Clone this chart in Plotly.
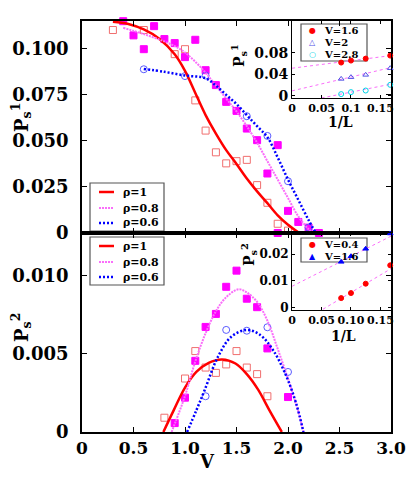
import plotly.graph_objects as go

# ---- top panel: P_s^1 vs V ----
v_r1_top = [0.3, 0.6, 0.9, 1.0, 1.1, 1.2, 1.3, 1.4, 1.5, 1.6, 1.7, 1.8, 1.9, 2.0]
p_r1_top = [0.1102, 0.1102, 0.0971, 0.0998, 0.0720, 0.0556, 0.0438, 0.0378, 0.0390, 0.0397, 0.0260, 0.0164, 0.0050, 0.0013]

v_r08_top = [0.4, 0.5, 0.6, 0.7, 0.8, 0.9, 1.0, 1.1, 1.2, 1.3, 1.4, 1.5, 1.6, 1.7, 1.8, 1.9, 1.9, 2.0, 2.1, 2.2, 2.3]
p_r08_top = [0.1150, 0.1073, 0.0998, 0.1123, 0.1053, 0.1031, 0.0955, 0.1049, 0.0884, 0.0803, 0.0712, 0.0663, 0.0567,
             0.0504, 0.0323, 0.0477, 0.0, 0.0120, 0.0060, 0.0029, 0.0]

v_r06_top = [0.6, 1.0, 1.2, 1.6, 1.8, 2.0, 2.2]
p_r06_top = [0.0889, 0.0852, 0.0855, 0.0634, 0.0527, 0.0281, 0.0029]

# fitted curves
vc_r1_top = [0.3, 0.45, 0.6, 0.75, 0.9, 1.0, 1.1, 1.2, 1.3, 1.4, 1.5, 1.6, 1.7, 1.8, 1.9, 2.0, 2.11]
pc_r1_top = [0.1147, 0.1135, 0.1105, 0.1055, 0.097, 0.088, 0.076, 0.064, 0.054, 0.045, 0.0375, 0.0296, 0.0226,
             0.0162, 0.0096, 0.0045, 0.0]
vc_r08_top = [0.4, 0.6, 0.8, 0.9, 1.0, 1.1, 1.2, 1.3, 1.4, 1.5, 1.6, 1.7, 1.8, 1.9, 2.0, 2.1, 2.2, 2.24]
pc_r08_top = [0.1114, 0.108, 0.104, 0.1015, 0.098, 0.093, 0.087, 0.080, 0.073, 0.066, 0.058, 0.049, 0.039, 0.029,
              0.019, 0.009, 0.002, 0.0]
vc_r06_top = [0.6, 0.8, 1.0, 1.2, 1.3, 1.4, 1.5, 1.6, 1.7, 1.8, 1.9, 2.0, 2.1, 2.2, 2.27]
pc_r06_top = [0.0891, 0.0875, 0.0855, 0.084, 0.080, 0.075, 0.070, 0.064, 0.058, 0.052, 0.041, 0.029, 0.018, 0.007, 0.0]

# ---- bottom panel: P_s^2 vs V ----
v_r1_bot = [0.8, 1.0, 1.1, 1.2, 1.3, 1.4, 1.5, 1.6, 1.7, 1.8]
p_r1_bot = [0.00091, 0.00341, 0.00516, 0.00411, 0.00377, 0.00431, 0.00516, 0.00411, 0.00369, 0.00228]
v_r08_bot = [0.9, 1.0, 1.1, 1.2, 1.3, 1.4, 1.5, 1.6, 1.7, 1.8, 2.0]
p_r08_bot = [0.00057, 0.00219, 0.00454, 0.0067, 0.00753, 0.00926, 0.01029, 0.0085, 0.00796, 0.00533, 0.00223]
v_r06_bot = [1.2, 1.4, 1.6, 1.8, 2.0]
p_r06_bot = [0.00228, 0.00651, 0.00646, 0.00668, 0.00383]

vc_r1_bot = [0.79, 0.89, 1.0, 1.11, 1.23, 1.36, 1.49, 1.6, 1.71, 1.82, 1.94]
pc_r1_bot = [0.0, 0.00138, 0.00283, 0.00383, 0.00441, 0.00463, 0.00437, 0.00369, 0.0027, 0.00138, 0.0]
vc_r08_bot = [0.87, 1.0, 1.1, 1.2, 1.3, 1.4, 1.52, 1.6, 1.7, 1.8, 1.9, 2.0, 2.1, 2.15]
pc_r08_bot = [0.0, 0.0023, 0.0045, 0.0063, 0.0077, 0.0086, 0.0091, 0.0089, 0.0083, 0.0071, 0.0053, 0.0034, 0.0013, 0.0]
vc_r06_bot = [1.02, 1.11, 1.19, 1.32, 1.45, 1.6, 1.73, 1.855, 1.98, 2.08, 2.15]
pc_r06_bot = [0.0, 0.00138, 0.00266, 0.0048, 0.00608, 0.00651, 0.00619, 0.00522, 0.00362, 0.0018, 0.0]

# ---- insets: finite size scaling vs 1/L ----
inv_l = [1 / 12, 1 / 10, 1 / 8, 1 / 6]
fit_x = [0.0, 0.168]

p1_v16 = [0.062, 0.0657, 0.0694, 0.075]
p1_v2 = [0.0316, 0.0348, 0.0391, 0.0515]
p1_v28 = [0.0032, 0.0069, 0.0099, 0.0205]
fit_p1_v16 = [0.0515, 0.075]
fit_p1_v2 = [0.0093, 0.0527]
fit_p1_v28 = [-0.015, 0.0218]

p2_v04 = [0.00347, 0.00536, 0.00887, 0.01577]
p2_v16 = [0.01706, 0.01917, 0.02196, 0.0277]
fit_p2_v04 = [-0.0076, 0.0145]
fit_p2_v16 = [0.0079, 0.0267]

RED = 'rgb(255,0,0)'
SQR = 'rgb(240,110,110)'
MAG = 'rgb(255,0,255)'
PINK = 'rgb(250,110,250)'
BLUE = 'rgb(0,0,255)'
CIRC = 'rgb(90,90,255)'
TRI = 'rgb(80,80,230)'
CYAN = 'rgb(0,210,230)'

fig = go.Figure()


def curve(x, y, xa, ya, color, dash, width):
    fig.add_trace(go.Scatter(x=x, y=y, xaxis=xa, yaxis=ya, mode='lines', showlegend=False,
                             line=dict(color=color, dash=dash, width=width, shape='spline')))


def points(x, y, xa, ya, symbol, color, size):
    fig.add_trace(go.Scatter(x=x, y=y, xaxis=xa, yaxis=ya, mode='markers', cliponaxis=False, showlegend=False,
                             marker=dict(symbol=symbol, size=size, color=color, line=dict(color=color, width=1))))


# top main panel
points(v_r1_top, p_r1_top, 'x', 'y', 'square-open', SQR, 7)
points(v_r08_top, p_r08_top, 'x', 'y', 'square', MAG, 7)
points(v_r06_top, p_r06_top, 'x', 'y', 'circle-open', CIRC, 7)
curve(vc_r1_top, pc_r1_top, 'x', 'y', RED, 'solid', 2.5)
curve(vc_r08_top, pc_r08_top, 'x', 'y', PINK, '2px,1px', 2)
curve(vc_r06_top, pc_r06_top, 'x', 'y', BLUE, '2px,2px', 2.5)

# bottom main panel
points(v_r1_bot, p_r1_bot, 'x2', 'y2', 'square-open', SQR, 7)
points(v_r08_bot, p_r08_bot, 'x2', 'y2', 'square', MAG, 7)
points(v_r06_bot, p_r06_bot, 'x2', 'y2', 'circle-open', CIRC, 7)
curve(vc_r1_bot, pc_r1_bot, 'x2', 'y2', RED, 'solid', 2.5)
curve(vc_r08_bot, pc_r08_bot, 'x2', 'y2', PINK, '2px,1px', 2)
curve(vc_r06_bot, pc_r06_bot, 'x2', 'y2', BLUE, '2px,2px', 2.5)

# insets
for fy in [fit_p1_v16, fit_p1_v2, fit_p1_v28]:
    curve(fit_x, fy, 'x3', 'y3', PINK, 'dot', 1)
for fy in [fit_p2_v04, fit_p2_v16]:
    curve(fit_x, fy, 'x4', 'y4', PINK, 'dot', 1)

points(inv_l, p1_v16, 'x3', 'y3', 'circle', RED, 5)
points(inv_l, p1_v2, 'x3', 'y3', 'triangle-up-open', TRI, 5)
points(inv_l, p1_v28, 'x3', 'y3', 'circle-open', CYAN, 5)
points(inv_l, p2_v04, 'x4', 'y4', 'circle', RED, 5)
points(inv_l, p2_v16, 'x4', 'y4', 'triangle-up', BLUE, 5)

ax = dict(showgrid=False, zeroline=False, showline=True, linecolor='black', mirror='allticks',
          ticks='inside', tickcolor='black', automargin=False)
main = dict(ax, linewidth=1.5, ticklen=5, tickwidth=1.2, tickfont=dict(size=18))
inset = dict(ax, linewidth=1, ticklen=3, tickwidth=1)

top_dom = [0.4842, 1.0]
bot_dom = [0.0, 0.483]

# page has an 8px body margin, so the figure is 8px smaller and shifted
fig.update_layout(
    width=407, height=477,
    margin=dict(l=74, r=24, t=13, b=53),
    paper_bgcolor='white', plot_bgcolor='rgba(0,0,0,0)',
    showlegend=False,
    font=dict(family='DejaVu Serif', weight='bold', color='black'),
    xaxis=dict(main, domain=[0, 1], anchor='y', range=[0, 3], tickvals=[0, 0.5, 1, 1.5, 2, 2.5, 3],
               showticklabels=False),
    yaxis=dict(main, domain=top_dom, anchor='x', range=[0, 0.1151],
               tickvals=[0, 0.025, 0.05, 0.075, 0.1], ticktext=['0', '0.025', '0.050', '0.075', '0.100'],
               ticklabelstandoff=8),
    xaxis2=dict(main, domain=[0, 1], anchor='y2', range=[0, 3], tickvals=[0, 0.5, 1, 1.5, 2, 2.5, 3],
                ticktext=['0', '0.5', '1.0', '1.5', '2.0', '2.5', '3.0'], tickfont=dict(size=17)),
    yaxis2=dict(main, domain=bot_dom, anchor='x2', range=[0, 0.01266],
                tickvals=[0, 0.005, 0.01], ticktext=['0', '0.005', '0.010'], ticklabelstandoff=8),
    xaxis3=dict(inset, domain=[0.68, 1], anchor='y3', range=[0, 0.168], tickfont=dict(size=11),
                tickvals=[0, 0.05, 0.1, 0.15], ticktext=['0', '0.05', '0.1', '0.15']),
    yaxis3=dict(inset, domain=[0.8127, 1], anchor='x3', range=[-0.004, 0.1395], tickfont=dict(size=14),
                tickvals=[0, 0.04, 0.08], ticktext=['0', '0.04', '0.08']),
    xaxis4=dict(inset, domain=[0.68, 1], anchor='y4', range=[0, 0.168], tickfont=dict(size=11),
                tickvals=[0, 0.05, 0.1, 0.15], ticktext=['0', '0.05', '0.10', '0.15']),
    yaxis4=dict(inset, domain=[0.2968, 0.483], anchor='x4', range=[-0.001, 0.0277], tickfont=dict(size=12),
                tickvals=[0, 0.01, 0.02], ticktext=['0', '0.01', '0.02']),
)


# helpers to place legend pieces by page pixel
def px(x):
    return (x - 82) / 309


def py(y):
    return (432 - y) / 411


def text(t, x, y, size, xanchor='center', ang=0, color='black', family=None):
    f = dict(size=size, color=color)
    if family:
        f['family'] = family
    fig.add_annotation(text=t, x=px(x), y=py(y), xref='paper', yref='paper', showarrow=False,
                       xanchor=xanchor, yanchor='middle', textangle=ang, font=f)


def box(x0, x1, y0, y1):
    fig.add_shape(type='rect', xref='paper', yref='paper', x0=px(x0), x1=px(x1), y0=py(y0), y1=py(y1),
                  line=dict(color='#555', width=1.2), fillcolor='white', layer='below')


# main legends (lines)
line_items = [('ρ=1', RED, 'solid', 2.5), ('ρ=0.8', PINK, '2px,1px', 2), ('ρ=0.6', BLUE, '2px,2px', 2.5)]
for top, rows in [(183, [192, 208, 223]), (237, [246, 262, 277])]:
    box(90, 164, top, top + 48)
    for (name, col, dash, w), yy in zip(line_items, rows):
        fig.add_shape(type='line', xref='paper', yref='paper', x0=px(99), x1=px(114), y0=py(yy), y1=py(yy),
                      line=dict(color=col, dash=dash, width=w))
        text(name, 121, yy, 11, xanchor='left')

# inset legends (markers)
box(301, 367, 24, 61)
for sym, col, name, yy in [('●', RED, 'V=1.6', 31), ('△', TRI, 'V=2', 42), ('○', CYAN, 'V=2.8', 54)]:
    text(sym, 312, yy, 8, color=col, family='DejaVu Sans')
    text(name, 322, yy, 10, xanchor='left')
box(301, 367, 238, 262)
for sym, col, name, yy in [('●', RED, 'V=0.4', 244), ('▲', BLUE, 'V=1.6', 256)]:
    text(sym, 312, yy, 8, color=col, family='DejaVu Sans')
    text(name, 322, yy, 10, xanchor='left')

# axis titles
text('V', 207, 461, 18)
text('P<sub>s</sub><sup>1</sup>', 21, 118, 18, ang=-90)
text('P<sub>s</sub><sup>2</sup>', 21, 328, 18, ang=-90)
text('P<sub>s</sub><sup>1</sup>', 239, 56, 14, ang=-90)
text('P<sub>s</sub><sup>2</sup>', 249, 255, 14, ang=-90)
text('1/L', 340, 122, 14)
text('1/L', 343, 336, 14)

fig.write_html("out.html")
